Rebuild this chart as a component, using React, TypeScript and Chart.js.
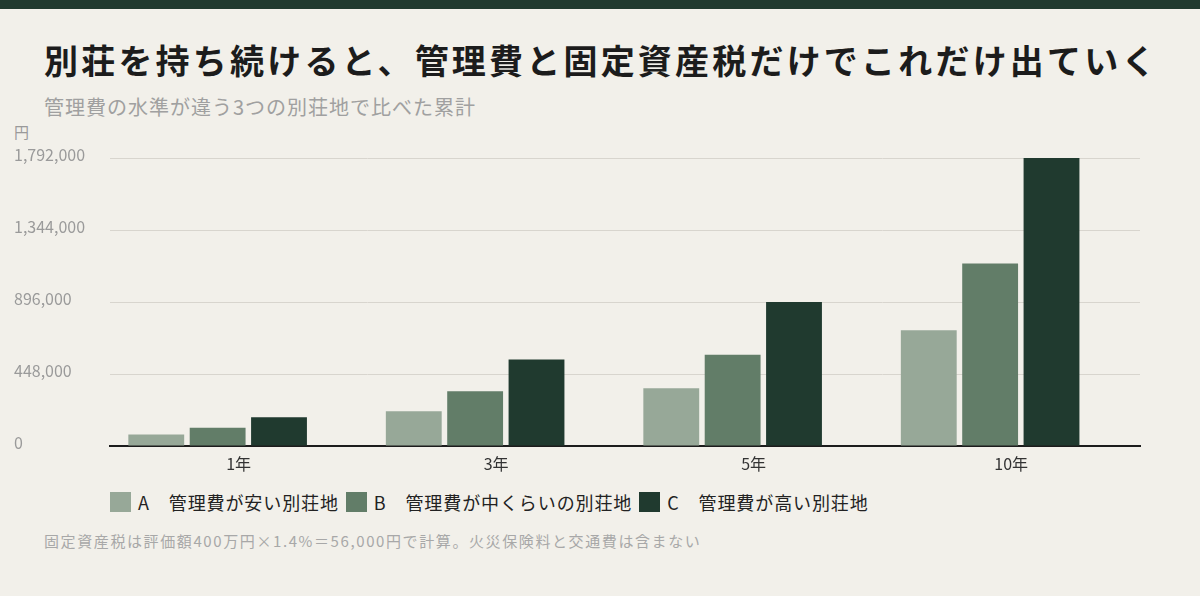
import { useEffect, useRef } from "react";
import { Chart, registerables } from "chart.js";

Chart.register(...registerables);

const FONT = '"Noto Sans CJK JP", "Noto Sans", sans-serif';

const categories = ["1年", "3年", "5年", "10年"];
const seriesNames = [
  "A\u3000管理費が安い別荘地",
  "B\u3000管理費が中くらいの別荘地",
  "C\u3000管理費が高い別荘地",
];
const valuesA = [72000, 216000, 360000, 720000];
const valuesB = [113600, 340800, 568000, 1136000];
const valuesC = [179200, 537600, 896000, 1792000];
const seriesColors = ["#97a898", "#627d68", "#203a2f"];
const yTicks = [0, 448000, 896000, 1344000, 1792000];

// bar groups sit a little left of the year labels in the original
const GROUP_SHIFT = 0.082;

export default function App() {
  const chartRef = useRef<HTMLCanvasElement>(null);
  const chartInstance = useRef<Chart | null>(null);

  useEffect(() => {
    document.body.style.margin = "0";
    if (!chartRef.current) return;
    const ctx = chartRef.current.getContext("2d");
    if (!ctx) return;
    if (chartInstance.current) chartInstance.current.destroy();

    const allValues = [valuesA, valuesB, valuesC];

    chartInstance.current = new Chart(ctx, {
      type: "bar",
      data: {
        datasets: allValues.map((vals, i) => ({
          label: seriesNames[i],
          data: vals.map((v, j) => ({ x: j, y: v })),
          backgroundColor: seriesColors[i],
          borderWidth: 0,
          categoryPercentage: 0.715,
          barPercentage: 0.91,
        })),
      },
      options: {
        animation: false,
        responsive: false,
        maintainAspectRatio: false,
        layout: { padding: { top: 38, left: 14, right: 60, bottom: 0 } },
        plugins: {
          legend: { display: false },
          tooltip: { enabled: false },
        },
        scales: {
          x: {
            type: "linear",
            offset: false,
            bounds: "data",
            min: -0.5 + GROUP_SHIFT,
            max: categories.length - 0.5 + GROUP_SHIFT,
            afterBuildTicks: (axis: any) => {
              axis.ticks = categories.map((_, i) => ({ value: i }));
            },
            grid: { display: false, drawTicks: false, offset: false },
            border: { display: true, color: "#1c1c1c", width: 2 },
            ticks: {
              color: "#333333",
              font: { family: FONT, size: 16 },
              padding: 8,
              labelOffset: 21,
              maxRotation: 0,
              autoSkip: false,
              callback: (v: any) => categories[Math.round(Number(v))],
            },
            afterFit: (axis: any) => {
              axis.height = 34;
            },
          },
          y: {
            min: 0,
            max: yTicks[yTicks.length - 1],
            afterBuildTicks: (axis: any) => {
              axis.ticks = yTicks.map((v) => ({ value: v }));
            },
            grid: { color: "#d8d5ce", lineWidth: 1, drawTicks: false },
            border: { display: false },
            ticks: {
              color: "#9a9a9a",
              font: { family: FONT, size: 16 },
              crossAlign: "far",
              labelOffset: -3,
              padding: 0,
              callback: (v: any) => Number(v).toLocaleString("en-US"),
            },
            afterFit: (axis: any) => {
              axis.width = 96;
            },
          },
        },
      },
    });

    return () => {
      if (chartInstance.current) {
        chartInstance.current.destroy();
        chartInstance.current = null;
      }
    };
  }, []);

  return (
    <div
      style={{
        position: "relative",
        width: 1200,
        height: 596,
        background: "#f2f0ea",
        fontFamily: FONT,
        overflow: "hidden",
      }}
    >
      <div style={{ position: "absolute", left: 0, top: 0, width: 1200, height: 9, background: "#213a2f" }} />
      <div
        style={{
          position: "absolute",
          left: 44,
          top: 43,
          fontSize: 34,
          lineHeight: "34px",
          fontWeight: 700,
          letterSpacing: "3.2px",
          color: "#1c1c1c",
          whiteSpace: "nowrap",
        }}
      >
        別荘を持ち続けると、管理費と固定資産税だけでこれだけ出ていく
      </div>
      <div
        style={{
          position: "absolute",
          left: 44,
          top: 96,
          fontSize: 20,
          lineHeight: "22px",
          letterSpacing: "1px",
          color: "#a0a0a0",
          whiteSpace: "nowrap",
        }}
      >
        管理費の水準が違う3つの別荘地で比べた累計
      </div>
      <div
        style={{
          position: "absolute",
          left: 14,
          top: 123,
          fontSize: 15,
          lineHeight: "18px",
          color: "#9a9a9a",
        }}
      >
        円
      </div>
      <canvas
        ref={chartRef}
        width={1200}
        height={360}
        style={{ position: "absolute", left: 0, top: 120, width: 1200, height: 360 }}
      />
      <div
        style={{
          position: "absolute",
          left: 110,
          top: 491,
          display: "flex",
          alignItems: "center",
          fontSize: 18,
          lineHeight: "22px",
          letterSpacing: "0.9px",
          color: "#222222",
          whiteSpace: "nowrap",
        }}
      >
        {seriesNames.map((name, i) => (
          <div key={name} style={{ display: "flex", alignItems: "center", marginRight: 7 }}>
            <span
              style={{
                display: "inline-block",
                width: 21,
                height: 20,
                background: seriesColors[i],
                marginRight: 7,
              }}
            />
            <span>{name}</span>
          </div>
        ))}
      </div>
      <div
        style={{
          position: "absolute",
          left: 44,
          top: 532,
          fontSize: 15,
          lineHeight: "18px",
          letterSpacing: "1.6px",
          color: "#a8a8a8",
          whiteSpace: "nowrap",
        }}
      >
        固定資産税は評価額400万円×1.4%＝56,000円で計算。火災保険料と交通費は含まない
      </div>
    </div>
  );
}
